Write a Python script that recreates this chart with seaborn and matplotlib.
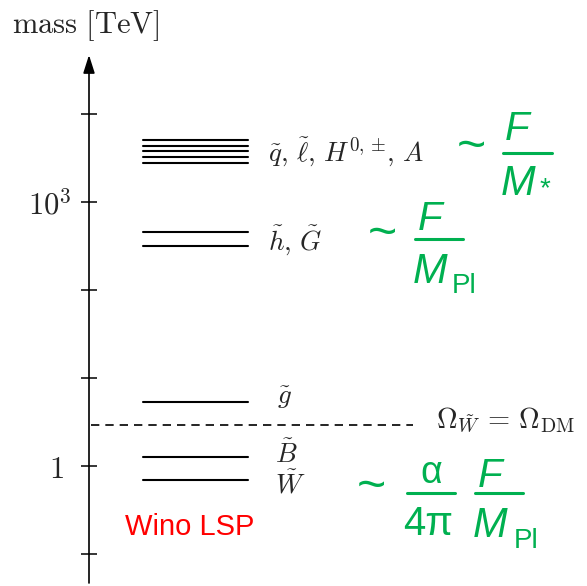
import numpy as np
import pandas as pd
import matplotlib
matplotlib.use("Agg")
import matplotlib.pyplot as plt
from matplotlib.lines import Line2D
from matplotlib.ticker import NullLocator
from matplotlib.transforms import ScaledTranslation
import seaborn as sns

# ---- data (masses in TeV) ----
squark_slepton_higgs = [5070, 4360, 3800, 3270, 2800]
higgsino_gravitino = [459, 319]
gluino = [5.4]
bino = [1.27]
wino = [0.69]
wino_dm_mass = 2.9
tick_values = [0.1, 1, 10, 100, 1000, 10000]
tick_labels = ["", r"$1$", "", "", r"$10^3$", ""]
level_labels = [r"$\tilde{q},\, \tilde{\ell},\, H^{0,\pm}\!,\, A$", r"$\tilde{h},\, \tilde{G}$",
                r"$\tilde{g}$", r"$\tilde{B}$", r"$\tilde{W}$"]

sns.set_style("white")
plt.rcParams["mathtext.fontset"] = "cm"
plt.rcParams["font.family"] = ["DejaVu Sans"]

W, H = 587, 586
fig = plt.figure(figsize=(W / 100, H / 100), dpi=100)
AX_X = 89
ax = fig.add_axes([AX_X / W, 0, 1 - AX_X / W, 1])
ax.set_yscale("log")
Y0, DEC = 466, 88  # pixel of 1 TeV, pixels per decade
ax.set_ylim(10 ** ((Y0 - H) / DEC), 10 ** (Y0 / DEC))
ax.set_xlim(AX_X, W)
for s in ax.spines.values():
    s.set_visible(False)
ax.set_xticks([])
ax.set_yticks(tick_values)
ax.set_yticklabels(tick_labels, fontsize=22)
ax.yaxis.set_minor_locator(NullLocator())
ax.tick_params(axis="y", direction="inout", length=11.5, width=1.1,
               color="black", pad=12, left=True)
ax.patch.set_alpha(0)
for lab in ax.get_yticklabels():
    if "10" in lab.get_text():
        lab.set_transform(lab.get_transform() + ScaledTranslation(0.07, 0, fig.dpi_scale_trans))

def ypx(v):
    return 10 ** ((Y0 - v) / DEC)

# vertical axis with arrow
ax.annotate("", xy=(AX_X, ypx(55)), xytext=(AX_X, ypx(583)),
            arrowprops=dict(arrowstyle="-|>,head_length=1.1,head_width=0.35",
                            mutation_scale=10, lw=1.2, color="black",
                            shrinkA=0, shrinkB=0),
            annotation_clip=False)

# levels
X0, X1 = 143, 248
groups = [squark_slepton_higgs, higgsino_gravitino, gluino, bino, wino]
rows = []
lid = 0
for g in groups:
    for m in g:
        rows.append(dict(x=X0, mass=m, level=lid))
        rows.append(dict(x=X1, mass=m, level=lid))
        lid += 1
df = pd.DataFrame(rows)
sns.lineplot(data=df, x="x", y="mass", units="level", estimator=None,
             color="black", lw=1.5, sort=False, ax=ax, legend=False)
dm = pd.DataFrame(dict(x=[AX_X + 2, 413], mass=[wino_dm_mass, wino_dm_mass]))
sns.lineplot(data=dm, x="x", y="mass", color="black", lw=1.2,
             linestyle=(0, (5, 3.6)), ax=ax, legend=False)
ax.set_xlabel("")
ax.set_ylabel("")

def ftxt(x, y, s, **kw):
    fig.text(x / W, 1 - y / H, s, **kw)

# serif labels
ftxt(12, 33, r"$\mathrm{mass\ [TeV]}$", fontsize=22, va="baseline")
label_pos = [(268, 161), (268, 250), (277, 404), (275, 463), (275, 494)]
for (x, y), s in zip(label_pos, level_labels):
    ftxt(x, y, s, fontsize=19.5, va="baseline")
ftxt(436, 428, r"$\Omega_{\tilde{W}}\,=\,\Omega_{\mathrm{DM}}$", fontsize=20.5, va="baseline")

# red label
ftxt(125, 535, "Wino LSP", fontsize=21, color="#ff0000", family="Liberation Sans", va="baseline")

# green formulas
G = "#00b050"
GF = "Liberation Sans"
def bar(x0, x1, y):
    fig.add_artist(Line2D([x0 / W, x1 / W], [1 - y / H, 1 - y / H], color=G, lw=2.2))

def tilde(x, y):
    ftxt(x, y, "~", fontsize=36, color=G, family=GF, ha="center", va="center")

# top: ~ F / M_*
tilde(471, 148)
ftxt(505, 140, "F", fontsize=29, color=G, family=GF, style="italic", va="baseline")
bar(503, 552, 153)
ftxt(501, 195, "M", fontsize=30, color=G, family=GF, style="italic", va="baseline")
ftxt(540, 196, "*", fontsize=20, color=G, family=GF, va="baseline")

# middle: ~ F / M_Pl
tilde(382, 235)
ftxt(418, 230, "F", fontsize=29, color=G, family=GF, style="italic", va="baseline")
bar(415, 463, 239)
ftxt(413, 283, "M", fontsize=30, color=G, family=GF, style="italic", va="baseline")
ftxt(452, 293, "Pl", fontsize=20, color=G, family=GF, va="baseline")

# bottom: ~ alpha/4pi F/M_Pl
tilde(371, 488)
ftxt(431, 483, "α", fontsize=27, color=G, family=GF, ha="center", va="baseline")
bar(407, 455, 493)
ftxt(428, 535, "4π", fontsize=29, color=G, family=GF, ha="center", va="baseline")
ftxt(478, 487, "F", fontsize=29, color=G, family=GF, style="italic", va="baseline")
bar(475, 523, 493)
ftxt(473, 537, "M", fontsize=30, color=G, family=GF, style="italic", va="baseline")
ftxt(514, 548, "Pl", fontsize=20, color=G, family=GF, va="baseline")

fig.savefig("out.png", dpi=100)
